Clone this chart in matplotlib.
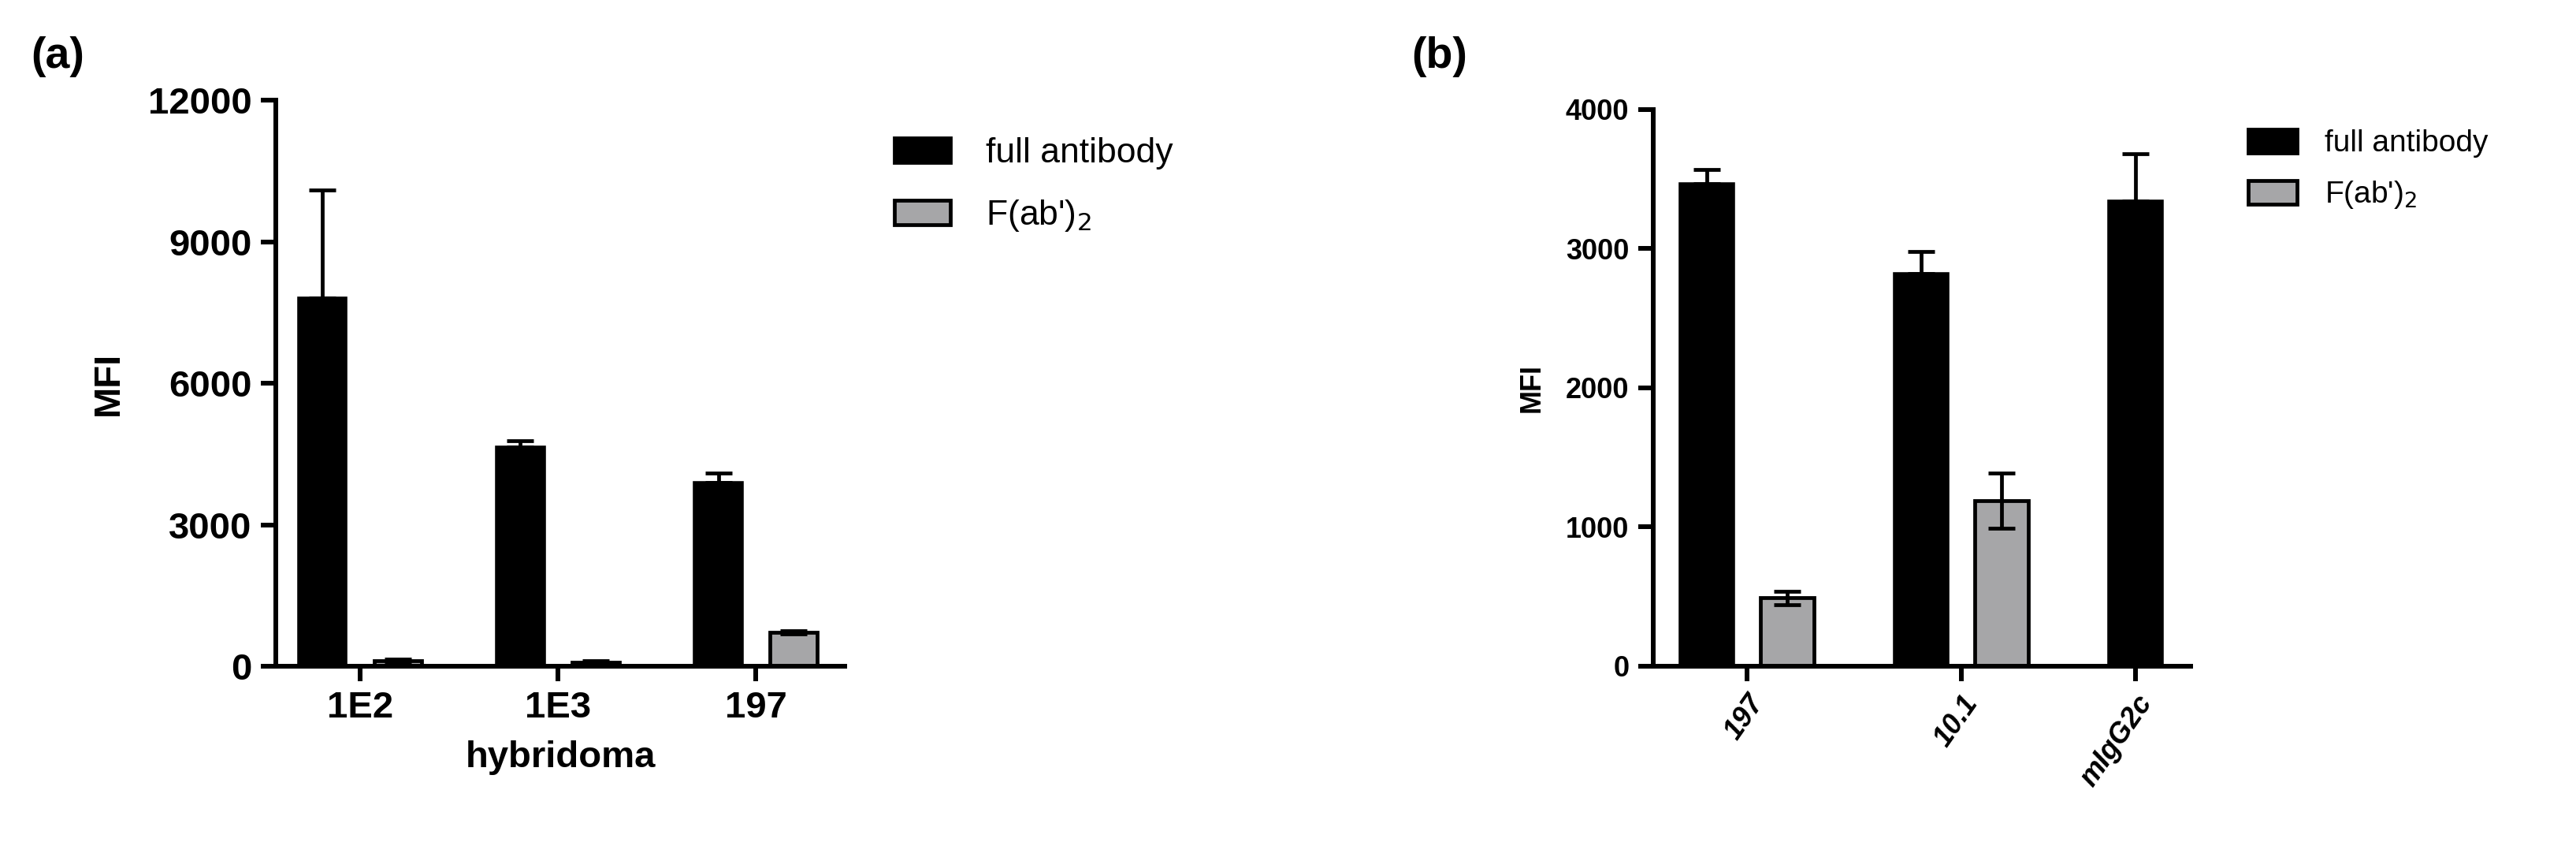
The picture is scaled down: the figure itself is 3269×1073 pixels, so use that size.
import matplotlib
matplotlib.use("Agg")
import matplotlib.pyplot as plt
from matplotlib.patches import Patch
import numpy as np

plt.rcParams['font.family'] = ['Liberation Sans', 'DejaVu Sans']

# Panel a data
a_cats = ["1E2", "1E3", "197"]
a_full = [7800, 4650, 3900]
a_full_err = [2300, 130, 200]
a_fab = [120, 80, 720]
a_fab_err = [30, 40, 30]
a_yticks = [0, 3000, 6000, 9000, 12000]

# Panel b data
b_cats = ["197", "10.1", "mIgG2c"]
b_full = [3470, 2820, 3340]
b_full_err = [100, 160, 340]
b_fab = [490, 1190]
b_fab_err = [50, 200]
b_yticks = [0, 1000, 2000, 3000, 4000]

fig = plt.figure(figsize=(32.69, 10.73), dpi=100)
LW = 4.3
GRAY = '#a6a6a8'

def style(ax, fs):
    for s in ['top', 'right']:
        ax.spines[s].set_visible(False)
    for s in ['left', 'bottom']:
        ax.spines[s].set_linewidth(LW)
    ax.tick_params(width=LW, length=14, labelsize=fs, pad=8)
    for t in ax.get_yticklabels() + ax.get_xticklabels():
        t.set_fontweight('bold')

# ---- panel a
ax = fig.add_axes([0.1071, 0.2125, 0.2209, 0.669])
x = np.arange(len(a_cats))
w, off = 0.24, 0.19
ax.bar(x - off, a_full, w, color='black', edgecolor='black', linewidth=LW*0.6)
ax.errorbar(x - off, a_full, yerr=[np.zeros(3), a_full_err], fmt='none', ecolor='black',
            elinewidth=LW*0.8, capsize=12, capthick=LW*0.8)
ax.bar(x + off, a_fab, w, color=GRAY, edgecolor='black', linewidth=LW*0.8)
ax.errorbar(x + off, a_fab, yerr=a_fab_err, fmt='none', ecolor='black',
            elinewidth=LW*0.8, capsize=12, capthick=LW*0.8)
ax.set_xlim(-0.426, 2.45)
ax.set_ylim(0, 12000)
ax.set_yticks(a_yticks)
ax.set_xticks(x)
ax.set_xticklabels(a_cats)
ax.set_ylabel("MFI", fontsize=34, fontweight='bold', labelpad=20)
ax.set_xlabel("hybridoma", fontsize=34, fontweight='bold', labelpad=14)
style(ax, 34)
handles = [Patch(facecolor='black', edgecolor='black', linewidth=LW*0.8, label='full antibody'),
           Patch(facecolor=GRAY, edgecolor='black', linewidth=LW*0.8, label="F(ab')$_2$")]
fig.legend(handles=handles, loc='upper left', bbox_to_anchor=(0.335, 0.875), frameon=False,
           fontsize=32, handlelength=1.6, handleheight=0.7, handletextpad=1.0, labelspacing=0.8)
fig.text(0.012, 0.92, "(a)", fontsize=40, fontweight='bold')

# ---- panel b
ax2 = fig.add_axes([0.6418, 0.2125, 0.2086, 0.658])
xb = np.arange(len(b_cats))
w2, off2 = 0.25, 0.375
ax2.bar(xb, b_full, w2, color='black', edgecolor='black', linewidth=LW*0.6)
ax2.errorbar(xb, b_full, yerr=[np.zeros(3), b_full_err], fmt='none', ecolor='black',
             elinewidth=LW*0.8, capsize=12, capthick=LW*0.8)
xf = np.arange(len(b_fab)) + off2
ax2.bar(xf, b_fab, w2, color=GRAY, edgecolor='black', linewidth=LW*0.8)
ax2.errorbar(xf, b_fab, yerr=b_fab_err, fmt='none', ecolor='black',
             elinewidth=LW*0.8, capsize=12, capthick=LW*0.8)
ax2.set_xlim(-0.25, 2.257)
ax2.set_ylim(0, 4000)
ax2.set_yticks(b_yticks)
ax2.set_xticks([off2 / 2, 1 + off2 / 2, 2])
ax2.set_xticklabels(b_cats, rotation=55, ha='right', rotation_mode='anchor', style='italic')
ax2.set_ylabel("MFI", fontsize=26, fontweight='bold', labelpad=18)
style(ax2, 26)
handles2 = [Patch(facecolor='black', edgecolor='black', linewidth=LW*0.8, label='full antibody'),
            Patch(facecolor=GRAY, edgecolor='black', linewidth=LW*0.8, label="F(ab')$_2$")]
fig.legend(handles=handles2, loc='upper left', bbox_to_anchor=(0.862, 0.88), frameon=False,
           fontsize=28, handlelength=1.6, handleheight=0.8, handletextpad=0.9, labelspacing=0.7)
fig.text(0.548, 0.92, "(b)", fontsize=40, fontweight='bold')

fig.savefig("out.png", dpi=100)
